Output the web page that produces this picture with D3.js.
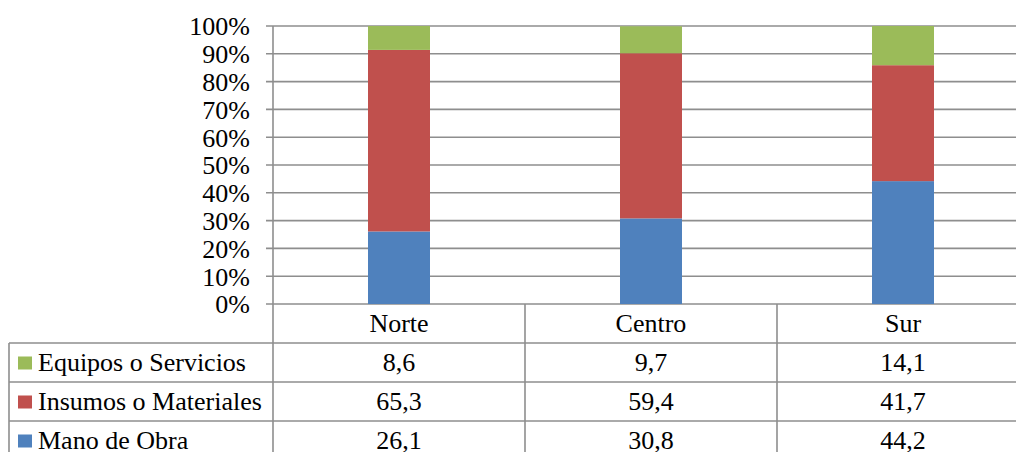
<!DOCTYPE html>
<html>
<head>
<meta charset="utf-8">
<script src="https://cdn.jsdelivr.net/npm/d3@7/dist/d3.min.js"></script>
<style>
  html, body { margin: 0; padding: 0; background: #fff; }
  svg { display: block; }
</style>
</head>
<body>
<svg id="chart" width="1016" height="452"></svg>
<script>
// Regions and cost shares (%)
const regions = ["Norte", "Centro", "Sur"];
const manoDeObra = [26.1, 30.8, 44.2];
const insumos = [65.3, 59.4, 41.7];
const equipos = [8.6, 9.7, 14.1];
const tickLabels = ["0%", "10%", "20%", "30%", "40%", "50%", "60%", "70%", "80%", "90%", "100%"];

// Series from bottom to top of each stack
const series = [
  { name: "Mano de Obra", values: manoDeObra, color: "#4F81BD" },
  { name: "Insumos o Materiales", values: insumos, color: "#C0504D" },
  { name: "Equipos o Servicios", values: equipos, color: "#9BBB59" }
];
// Table rows list the top series first
const tableRows = series.slice().reverse();

const FONT = '"Liberation Serif", "Times New Roman", serif';
const FS = 26;

const svg = d3.select("#chart");
const W = 1016, H = 452;
const plotLeft = 273, plotRight = 1029, plotTop = 26, plotBottom = 304;
const rowH = 39, legendLeft = 9;
const lineColor = "#8e8e8e";

const x = d3.scaleBand().domain(regions).range([plotLeft, plotRight])
  .paddingInner(0.754).paddingOuter(0.377);
const y = d3.scaleLinear().domain([0, 100]).range([plotBottom, plotTop]);

// Stack the shares
const table = regions.map((r, i) => {
  const o = { region: r };
  series.forEach(s => o[s.name] = s.values[i]);
  return o;
});
const stacked = d3.stack().keys(series.map(s => s.name))(table);

// Horizontal gridlines, extending left of the axis as tick marks
const gridG = svg.append("g");
gridG.selectAll("line").data(d3.range(0, 101, 10)).join("line")
  .attr("x1", 266).attr("x2", W)
  .attr("y1", d => y(d)).attr("y2", d => y(d))
  .attr("stroke", lineColor).attr("stroke-width", 1.6);

// Percentage labels
const yAxis = d3.axisLeft(y)
  .tickValues(d3.range(0, 101, 10))
  .tickFormat((d, i) => tickLabels[i])
  .tickSize(0);
const axG = svg.append("g").attr("transform", `translate(${plotLeft - 23},0)`).call(yAxis)
  .attr("font-family", FONT).attr("font-size", FS);
axG.select(".domain").remove();
axG.selectAll("text")
  .attr("x", 0).attr("dy", "0.34em").attr("fill", "#000");

// Bars
svg.append("g").selectAll("g").data(stacked).join("g")
  .attr("fill", (d, i) => series[i].color)
  .selectAll("rect").data(d => d).join("rect")
  .attr("x", d => x(d.data.region))
  .attr("width", x.bandwidth())
  .attr("y", d => y(d[1]))
  .attr("height", d => y(d[0]) - y(d[1]));

// Data table
const tbl = svg.append("g").attr("font-family", FONT).attr("font-size", FS);
const nRows = tableRows.length;
// vertical axis line continues through the table
tbl.append("line").attr("x1", plotLeft).attr("x2", plotLeft)
  .attr("y1", plotTop).attr("y2", H)
  .attr("stroke", lineColor).attr("stroke-width", 1.6);
// column separators
const step = x.step();
const colEdges = regions.map((r, i) => plotLeft + step * (i + 1));
tbl.selectAll("line.col").data(colEdges).join("line").attr("class", "col")
  .attr("x1", d => d).attr("x2", d => d)
  .attr("y1", plotBottom).attr("y2", H)
  .attr("stroke", lineColor).attr("stroke-width", 1.6);
// row separators
const rowTops = d3.range(nRows).map(i => plotBottom + rowH * (i + 1));
tbl.selectAll("line.row").data(rowTops).join("line").attr("class", "row")
  .attr("x1", legendLeft).attr("x2", W)
  .attr("y1", d => d).attr("y2", d => d)
  .attr("stroke", lineColor).attr("stroke-width", 1.6);
tbl.append("line").attr("x1", legendLeft).attr("x2", legendLeft)
  .attr("y1", rowTops[0]).attr("y2", H)
  .attr("stroke", lineColor).attr("stroke-width", 1.6);

// header labels
tbl.selectAll("text.hdr").data(regions).join("text").attr("class", "hdr")
  .attr("x", d => x(d) + x.bandwidth() / 2)
  .attr("y", plotBottom + rowH / 2)
  .attr("dy", "0.34em").attr("text-anchor", "middle")
  .text(d => d);

// rows: legend key, series name, values
const rowG = tbl.selectAll("g.r").data(tableRows).join("g").attr("class", "r")
  .attr("transform", (d, i) => `translate(0,${rowTops[i] + rowH / 2})`);
rowG.append("rect").attr("x", 18).attr("y", -6).attr("width", 14).attr("height", 13)
  .attr("fill", d => d.color);
rowG.append("text").attr("x", 38).attr("dy", "0.32em")
  .text(d => d.name);
rowG.selectAll("text.v").data(d => d.values).join("text").attr("class", "v")
  .attr("x", (v, i) => x(regions[i]) + x.bandwidth() / 2)
  .attr("dy", "0.32em").attr("text-anchor", "middle")
  .text(v => d3.format(".1f")(v).replace(".", ","));
</script>
</body>
</html>
